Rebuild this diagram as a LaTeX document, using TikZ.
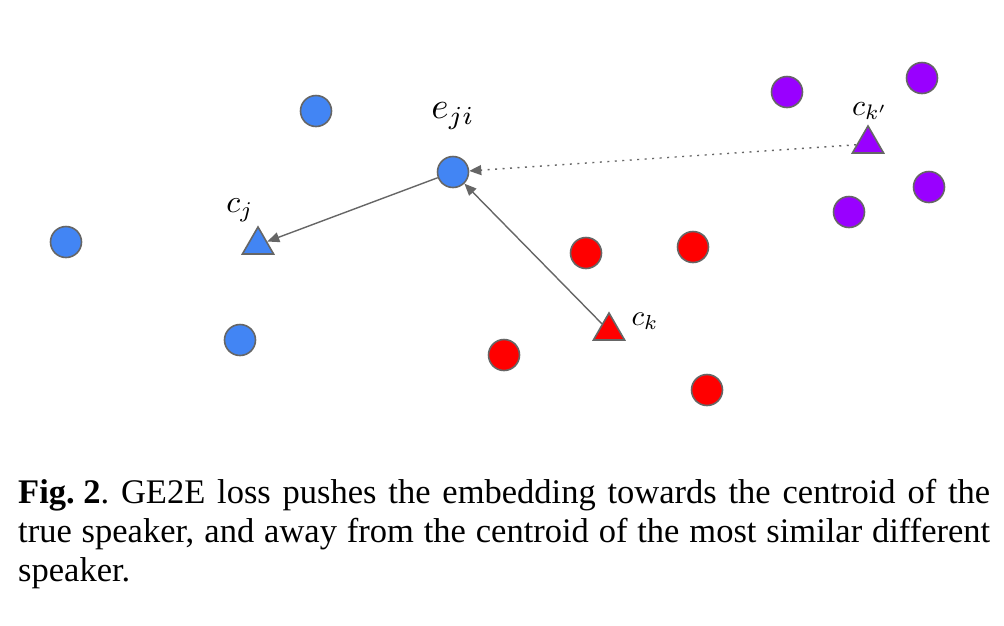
\documentclass[tikz,border=0pt]{standalone}
\usepackage{fontspec}
\setmainfont{Liberation Serif}
\usetikzlibrary{shapes.geometric, arrows.meta}
\definecolor{spkblue}{RGB}{66, 133, 244}
\definecolor{spkred}{RGB}{255, 0, 0}
\definecolor{spkpurple}{RGB}{153, 0, 255}
\definecolor{edge}{RGB}{102, 102, 102}
\tikzstyle{emb}      = [circle, minimum size=31pt, inner sep=0pt, draw=edge, line width=1.6pt]
\tikzstyle{centroid} = [regular polygon, regular polygon sides=3, minimum size=36pt,
                        inner sep=0pt, draw=edge, line width=1.6pt]
\tikzstyle{lbl}      = [inner sep=0pt]
\tikzstyle{arrow}    = [-{Triangle[length=12pt, width=10pt]}, draw=edge, line width=1.4pt]
\newcommand{\biglbl}[2]{\scalebox{#1}{$#2$}}

\begin{document}
\begin{tikzpicture}[x=1pt, y=-1pt]
  \useasboundingbox (0,0) rectangle (1004,625);

  % speaker j
  \node (b1)  [emb, fill=spkblue] at (316,111) {};
  \node (b2)  [emb, fill=spkblue] at (66,242)  {};
  \node (b3)  [emb, fill=spkblue] at (240,340) {};
  \node (eji) [emb, fill=spkblue] at (453,172) {};
  \node (cj)  [centroid, fill=spkblue] at (258,245) {};

  % speaker k
  \node (r1) [emb, fill=spkred] at (586,253) {};
  \node (r2) [emb, fill=spkred] at (693,247) {};
  \node (r3) [emb, fill=spkred] at (504,355) {};
  \node (r4) [emb, fill=spkred] at (707,390) {};
  \node (ck) [centroid, fill=spkred] at (609,331) {};

  % speaker k'
  \node (p1)  [emb, fill=spkpurple] at (787,92)  {};
  \node (p2)  [emb, fill=spkpurple] at (922,78)  {};
  \node (p3)  [emb, fill=spkpurple] at (929,187) {};
  \node (p4)  [emb, fill=spkpurple] at (849,212) {};
  \node (ckp) [centroid, fill=spkpurple] at (868,144) {};

  % labels
  \node [lbl] at (453,116) {\biglbl{3.7}{e_{ji}}};
  \node [lbl] at (240,210) {\biglbl{3.2}{c_j}};
  \node [lbl] at (645,321) {\biglbl{2.9}{c_k}};
  \node [lbl] at (870,111) {\biglbl{3.0}{c_{k'}}};

  \draw [arrow] (eji) -- (cj);
  \draw [arrow] (ck) -- (eji);
  \draw [arrow, dash pattern=on 2pt off 5.5pt] (ckp) -- (eji);

  % caption
  \node (cap) [anchor=north west, inner sep=0pt, text width=972pt, align=justify,
               font=\fontsize{34.5}{39}\selectfont] at (18,479)
    {\mbox{\textbf{Fig.\ 2}.} GE2E loss pushes the embedding towards the centroid of the\linebreak
     true speaker, and away from the centroid of the most similar different\linebreak
     speaker.};
\end{tikzpicture}
\end{document}
